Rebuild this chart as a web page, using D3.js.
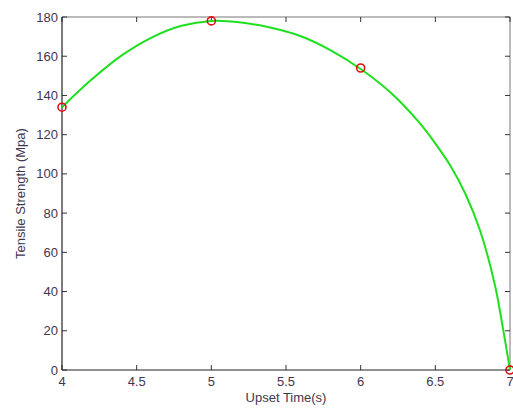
<!DOCTYPE html>
<html>
<head>
<meta charset="utf-8">
<script src="https://cdn.jsdelivr.net/npm/d3@7"></script>
<style>
  body { margin: 0; background: #fff; }
  text { font-family: "Liberation Sans", Arial, sans-serif; }
</style>
</head>
<body>
<script>
// measured points (red circles)
var pointX = [4, 5, 6, 7];
var pointY = [134, 178, 154, 0];

// fitted curve
var curveX = [4, 4.2, 4.4, 4.6, 4.8, 5, 5.2, 5.4, 5.6, 5.8, 6, 6.2, 6.4, 6.5, 6.6, 6.7, 6.8, 6.9, 6.95, 7];
var curveY = [134, 148.2, 160.4, 169.5, 175.5, 178, 177.2, 174.5, 170.2, 163, 153.5, 141.5, 125.5, 115.5, 104.3, 90, 71, 43, 22.5, 0];

var xTicks = [4, 4.5, 5, 5.5, 6, 6.5, 7];
var yTicks = [0, 20, 40, 60, 80, 100, 120, 140, 160, 180];

var width = 513, height = 408;
var plotL = 62, plotR = 510, plotT = 17, plotB = 370;
var tickLen = 5, labelColor = "#3f3650";

var svg = d3.select("body").append("svg")
  .attr("width", width).attr("height", height);

var x = d3.scaleLinear().domain([4, 7]).range([plotL, plotR]);
var y = d3.scaleLinear().domain([0, 180]).range([plotB, plotT]);

// box
svg.append("line").attr("x1", plotL).attr("x2", plotR).attr("y1", plotT).attr("y2", plotT)
  .attr("stroke", "#777").attr("stroke-width", 1);
svg.append("line").attr("x1", plotR).attr("x2", plotR).attr("y1", plotT).attr("y2", plotB)
  .attr("stroke", "#777").attr("stroke-width", 1);

// ticks, MATLAB style (inward, on all sides)
var ax = svg.append("g").attr("stroke", "#333").attr("stroke-width", 1);
xTicks.forEach(function(t) {
  ax.append("line").attr("x1", x(t)).attr("x2", x(t)).attr("y1", plotB).attr("y2", plotB - tickLen);
  ax.append("line").attr("x1", x(t)).attr("x2", x(t)).attr("y1", plotT).attr("y2", plotT + tickLen);
});
yTicks.forEach(function(t) {
  ax.append("line").attr("x1", plotL).attr("x2", plotL + tickLen).attr("y1", y(t)).attr("y2", y(t));
  ax.append("line").attr("x1", plotR).attr("x2", plotR - tickLen).attr("y1", y(t)).attr("y2", y(t));
});

// tick labels
svg.append("g").selectAll("text").data(xTicks).join("text")
  .attr("x", function(d) { return x(d); })
  .attr("y", 386)
  .attr("text-anchor", "middle")
  .attr("font-size", 13)
  .attr("fill", labelColor)
  .text(function(d) { return d; });

svg.append("g").selectAll("text").data(yTicks).join("text")
  .attr("x", 58)
  .attr("y", function(d) { return y(d) + 4.5; })
  .attr("text-anchor", "end")
  .attr("font-size", 13)
  .attr("fill", labelColor)
  .text(function(d) { return d; });

// left / bottom axis lines
svg.append("line").attr("x1", plotL).attr("x2", plotL).attr("y1", plotT).attr("y2", plotB)
  .attr("stroke", "#222").attr("stroke-width", 1.2);
svg.append("line").attr("x1", plotL).attr("x2", plotR).attr("y1", plotB).attr("y2", plotB)
  .attr("stroke", "#222").attr("stroke-width", 1.2);

// curve
var curveData = curveX.map(function(d, i) { return [d, curveY[i]]; });
var line = d3.line()
  .x(function(d) { return x(d[0]); })
  .y(function(d) { return y(d[1]); })
  .curve(d3.curveCatmullRom.alpha(0.5));

svg.append("path").datum(curveData)
  .attr("d", line)
  .attr("fill", "none")
  .attr("stroke", "#1ee01e")
  .attr("stroke-width", 2);

// markers
svg.append("g").selectAll("circle").data(pointX).join("circle")
  .attr("cx", function(d) { return x(d); })
  .attr("cy", function(d, i) { return y(pointY[i]); })
  .attr("r", 4)
  .attr("fill", "none")
  .attr("stroke", "#e01010")
  .attr("stroke-width", 1.6);

// axis titles
svg.append("text")
  .attr("x", (plotL + plotR) / 2)
  .attr("y", 402)
  .attr("text-anchor", "middle")
  .attr("font-size", 13)
  .attr("fill", labelColor)
  .text("Upset Time(s)");

svg.append("text")
  .attr("transform", "translate(25," + ((plotT + plotB) / 2) + ") rotate(-90)")
  .attr("text-anchor", "middle")
  .attr("font-size", 13)
  .attr("fill", labelColor)
  .text("Tensile Strength (Mpa)");
</script>
</body>
</html>
